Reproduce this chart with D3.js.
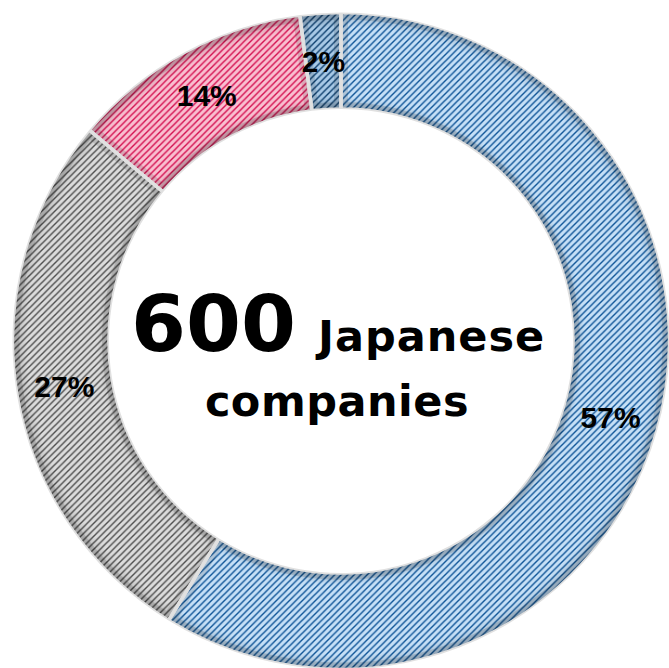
<!DOCTYPE html>
<html>
<head>
<meta charset="utf-8">
<script src="https://cdn.jsdelivr.net/npm/d3@7"></script>
<style>
  body { margin: 0; background: #fff; }
  svg { display: block; }
</style>
</head>
<body>
<div id="chart"></div>
<script>
var categories = ["A", "B", "C", "D"];
var shares = [58.8, 27.3, 11.9, 2.0];
var labels = ["57%", "27%", "14%", "2%"];

// colours: background and hatch stripe for each slice
var bgColors = ["#c6e0f7", "#dcdcdc", "#f9bfd0", "#a8c9e6"];
var stripeColors = ["#0e5497", "#4d4d4d", "#d40f4f", "#0d3f6e"];

var width = 669, height = 668;
var cx = 341, cy = 341;
var outerR = 328.5, innerR = 232;

var svg = d3.select("#chart")
    .append("svg")
    .attr("width", width)
    .attr("height", height);

var defs = svg.append("defs");

// hatch patterns (upward diagonal)
categories.forEach(function(c, i) {
    var p = defs.append("pattern")
        .attr("id", "hatch" + i)
        .attr("patternUnits", "userSpaceOnUse")
        .attr("width", 6.5)
        .attr("height", 6.5);
    p.append("rect")
        .attr("width", 6.5).attr("height", 6.5)
        .attr("fill", bgColors[i]);
    p.append("path")
        .attr("d", "M-1,1 L1,-1 M0,6.5 L6.5,0 M5.5,7.5 L7.5,5.5")
        .attr("stroke", stripeColors[i])
        .attr("stroke-width", 1.4);
});

// soft darkening at inner / outer rim (coordinates relative to the centre group)
var rg = defs.append("radialGradient")
    .attr("id", "rim")
    .attr("gradientUnits", "userSpaceOnUse")
    .attr("cx", 0).attr("cy", 0).attr("r", outerR);
rg.append("stop").attr("offset", innerR / outerR).attr("stop-color", "#000").attr("stop-opacity", 0.2);
rg.append("stop").attr("offset", innerR / outerR + 0.035).attr("stop-color", "#000").attr("stop-opacity", 0);
rg.append("stop").attr("offset", 0.955).attr("stop-color", "#000").attr("stop-opacity", 0);
rg.append("stop").attr("offset", 1).attr("stop-color", "#000").attr("stop-opacity", 0.18);

var g = svg.append("g")
    .attr("transform", "translate(" + cx + "," + cy + ")");

var pie = d3.pie()
    .sort(null)
    .value(function(d) { return d; });

var arc = d3.arc()
    .innerRadius(innerR)
    .outerRadius(outerR);

var arcs = pie(shares);

// one clip per slice so the edge shading stays inside it
defs.selectAll(".clip")
    .data(arcs)
    .enter()
    .append("clipPath")
    .attr("class", "clip")
    .attr("id", function(d, i) { return "clip" + i; })
    .append("path")
    .attr("transform", "translate(" + cx + "," + cy + ")")
    .attr("d", arc);

// slices
g.selectAll(".slice")
    .data(arcs)
    .enter()
    .append("path")
    .attr("class", "slice")
    .attr("d", arc)
    .attr("fill", function(d, i) { return "url(#hatch" + i + ")"; });

// rim shading
g.selectAll(".rim")
    .data(arcs)
    .enter()
    .append("path")
    .attr("class", "rim")
    .attr("d", arc)
    .attr("fill", "url(#rim)");

// darker edge along the slice borders, clipped to each slice
svg.selectAll(".edge")
    .data(arcs)
    .enter()
    .append("g")
    .attr("clip-path", function(d, i) { return "url(#clip" + i + ")"; })
    .append("path")
    .attr("class", "edge")
    .attr("transform", "translate(" + cx + "," + cy + ")")
    .attr("d", arc)
    .attr("fill", "none")
    .attr("stroke", "#000")
    .attr("stroke-opacity", 0.12)
    .attr("stroke-width", 14);

// white separators
g.selectAll(".sep")
    .data(arcs)
    .enter()
    .append("path")
    .attr("class", "sep")
    .attr("d", arc)
    .attr("fill", "none")
    .attr("stroke", "#fff")
    .attr("stroke-width", 3.5);

// percent labels
svg.selectAll(".pct")
    .data(arcs)
    .enter()
    .append("text")
    .attr("class", "pct")
    .attr("x", function(d) { return cx + arc.centroid(d)[0]; })
    .attr("y", function(d) { return cy + arc.centroid(d)[1]; })
    .attr("dy", "0.36em")
    .attr("text-anchor", "middle")
    .attr("font-family", "'Liberation Sans', Arial, sans-serif")
    .attr("font-weight", "bold")
    .attr("font-size", 30)
    .attr("fill", "#000")
    .text(function(d, i) { return labels[i]; });

// centre text
var centre = svg.append("text")
    .attr("font-family", "'DejaVu Sans', Verdana, sans-serif")
    .attr("font-weight", "bold")
    .attr("fill", "#000");
centre.append("tspan")
    .attr("x", 131)
    .attr("y", 351)
    .attr("font-size", 79)
    .text("600");
centre.append("tspan")
    .attr("dx", 22)
    .attr("font-size", 43)
    .attr("letter-spacing", 1)
    .text("Japanese");

svg.append("text")
    .attr("x", 337)
    .attr("y", 416)
    .attr("text-anchor", "middle")
    .attr("font-family", "'DejaVu Sans', Verdana, sans-serif")
    .attr("font-weight", "bold")
    .attr("font-size", 43)
    .attr("letter-spacing", 0.5)
    .attr("fill", "#000")
    .text("companies");
</script>
</body>
</html>
